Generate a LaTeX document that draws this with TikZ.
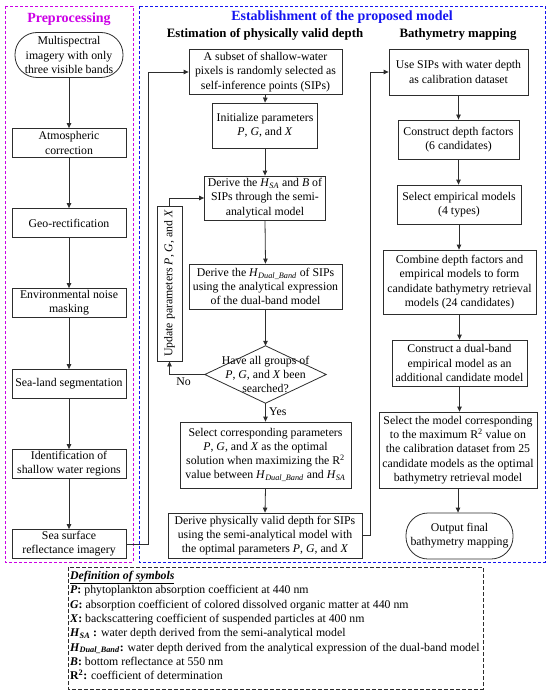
\documentclass[tikz,border=0pt]{standalone}
\usepackage{fontspec}
\setmainfont{Liberation Serif}
\usetikzlibrary{arrows.meta}
\newcommand\bxf{\fontsize{11.8}{14.2}\selectfont}
\newcommand\HSA{\textit{H}\textsubscript{\textit{SA}}}
\newcommand\HDB{\textit{H}\textsubscript{\textit{Dual\_Band}}}
\newcommand\PGX{\textit{P}, \textit{G}, and \textit{X}}
\definecolor{pmag}{RGB}{204,0,230}
\definecolor{pblue}{RGB}{20,20,240}
\definecolor{lncol}{RGB}{45,45,45}
\begin{document}
\begin{tikzpicture}[x=1pt,y=1pt,
  box/.style={draw=lncol, line width=0.8pt, align=center, inner sep=1pt, font=\bxf},
  stad/.style={box, rounded corners=22pt},
  arr/.style={draw=lncol, line width=0.8pt, -{Triangle[length=5pt,width=4.5pt]}},
  ln/.style={draw=lncol, line width=0.8pt},
  head/.style={font=\fontsize{12.8}{15}\selectfont\bfseries},
  ttl/.style={font=\fontsize{14}{16}\selectfont\bfseries}]
\useasboundingbox (0,0) rectangle (550,-695);
% frames
\draw[pmag, line width=0.8pt, dash pattern=on 3pt off 2pt] (5,-6) rectangle (133,-562);
\draw[pblue, line width=0.8pt, dash pattern=on 3pt off 2pt] (139,-6) rectangle (545,-562);
\draw[lncol, line width=0.8pt, dash pattern=on 4pt off 2pt] (68,-567) rectangle (483,-689);
% titles
\node[ttl, text=pmag] (tpre) at (69,-19) {Preprocessing};
\node[ttl, text=pblue] (test) at (342,-17) {Establishment of the proposed model};
\node[head] (hest) at (265,-34) {Estimation of physically valid depth};
\node[head] (hbat) at (458,-34) {Bathymetry mapping};
% left column
\node[stad, minimum width=108, minimum height=45] (ms) at (69,-55) {Multispectral\\imagery with only\\three visible bands};
\node[box, minimum width=114, minimum height=29] (atm) at (69,-143) {Atmospheric\\correction};
\node[box, minimum width=114, minimum height=29] (geo) at (69,-223) {Geo-rectification};
\node[box, minimum width=114, minimum height=29] (env) at (69,-303) {Environmental noise\\masking};
\node[box, minimum width=114, minimum height=29] (sls) at (69,-384) {Sea-land segmentation};
\node[box, minimum width=114, minimum height=29] (ids) at (69,-464) {Identification of\\shallow water regions};
\node[box, minimum width=114, minimum height=29] (ssr) at (69,-544) {Sea surface\\reflectance imagery};
\foreach \a/\b in {ms/atm,atm/geo,geo/env,env/sls,sls/ids,ids/ssr}
  \draw[arr] (\a.south) -- (\b.north);
% middle column
\node[box, minimum width=153, minimum height=45] (sip) at (265.5,-72) {A subset of shallow-water\\pixels is randomly selected as\\self-inference points (SIPs)};
\node[box, minimum width=105, minimum height=45] (ini) at (265,-125.5) {Initialize parameters\\\PGX};
\node[box, minimum width=121, minimum height=44] (hsa) at (265,-198) {Derive the \HSA{} and \textit{B} of\\SIPs through the semi-\\analytical model};
\node[box, minimum width=153, minimum height=45] (hdb) at (265.5,-286.5) {Derive the \HDB{} of SIPs\\using the analytical expression\\of the dual-band model};
\node[align=center, font=\bxf, inner sep=0pt, minimum width=121, minimum height=57] (dia) at (265.5,-374.5) {Have all groups of\\\PGX{} been\\searched?};
\draw[ln] (dia.north) -- (dia.east) -- (dia.south) -- (dia.west) -- cycle;
\node[box, minimum width=171, minimum height=66] (sel) at (265.5,-455) {Select corresponding parameters\\\PGX{} as the optimal\\solution when maximizing the R\textsuperscript{2}\\value between \HDB{} and \HSA};
\node[box, minimum width=194, minimum height=45] (phy) at (265,-535.5) {Derive physically valid depth for SIPs\\using the semi-analytical model with\\the optimal parameters \PGX};
\node[box, minimum width=155, minimum height=25, rotate=90] (upd) at (169.5,-283.5) {Update parameters \PGX};
\draw[arr] (sip.south) -- (ini.north);
\draw[arr] (ini.south) -- (hsa.north);
\draw[arr] (hsa.south) -- (hdb.north);
\draw[arr] (hdb.south) -- (dia.north);
\draw[arr] (dia.south) -- node[right, font=\bxf, pos=0.45] (yes) {Yes} (sel.north);
\draw[arr] (sel.south) -- (phy.north);
\draw[arr] (dia.west) -| node[pos=0.3, below, font=\bxf] (no) {No} (upd.west);
\draw[arr] (upd.east) |- (hsa.west);
\draw[arr] (ssr.east) -- ++(22,0) |- (sip.west);
% right column
\node[box, minimum width=139, minimum height=46] (use) at (458.5,-72) {Use SIPs with water depth\\as calibration dataset};
\node[box, minimum width=121, minimum height=39] (cdf) at (458.5,-139.5) {Construct depth factors\\(6 candidates)};
\node[box, minimum width=124, minimum height=39] (sem) at (459,-204.5) {Select empirical models\\(4 types)};
\node[box, minimum width=153, minimum height=64] (cmb) at (459.5,-282) {Combine depth factors and\\empirical models to form\\candidate bathymetry retrieval\\models (24 candidates)};
\node[box, minimum width=135, minimum height=46] (cdb) at (459.5,-363) {Construct a dual-band\\empirical model as an\\additional candidate model};
\node[box, minimum width=158, minimum height=76] (smc) at (458,-450) {Select the model corresponding\\to the maximum R\textsuperscript{2} value on\\the calibration dataset from 25\\candidate models as the optimal\\bathymetry retrieval model};
\node[stad, minimum width=107, minimum height=46] (out) at (459.5,-536) {Output final\\bathymetry mapping};
\draw[arr] (use.south) -- (use.south |- cdf.north);
\draw[arr] (cdf.south) -- (cdf.south |- sem.north);
\draw[arr] (sem.south) -- (sem.south |- cmb.north);
\draw[arr] (cmb.south) -- (cmb.south |- cdb.north);
\draw[arr] (cdb.south) -- (cdb.south |- smc.north);
\draw[arr] (smc.south) -- (smc.south |- out.north);
\draw[arr] (phy.east) -- ++(8,0) |- (use.west);
% definitions
\node[anchor=north west, align=left, inner sep=0pt, font=\fontsize{11.8}{14.3}\selectfont] (defs) at (70,-571) {%
\underline{\textbf{\textit{Definition of symbols}}}\\
\textbf{\textit{P}:} phytoplankton absorption coefficient at 440 nm\\
\textbf{\textit{G}:} absorption coefficient of colored dissolved organic matter at 440 nm\\
\textbf{\textit{X}:} backscattering coefficient of suspended particles at 400 nm\\
\textbf{\textit{H}\textsubscript{\textit{SA}} :} water depth derived from the semi-analytical model\\
\textbf{\textit{H}\textsubscript{\textit{Dual\_Band}}:} water depth derived from the analytical expression of the dual-band model\\
\textbf{\textit{B}:} bottom reflectance at 550 nm\\
\textbf{R\textsuperscript{2}:} coefficient of determination};
\end{tikzpicture}
\end{document}
